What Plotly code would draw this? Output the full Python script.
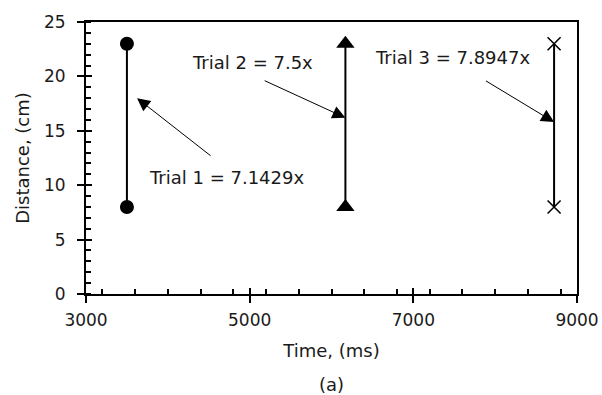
import plotly.graph_objects as go

# Data
trial1_x = [3500, 3500]
trial1_y = [8, 23]
trial2_x = [6170, 6170]
trial2_y = [8, 23]
trial3_x = [8720, 8720]
trial3_y = [8, 23]

labels = ["Trial 1 = 7.1429x", "Trial 2 = 7.5x", "Trial 3 = 7.8947x"]
label_pos = [(4719, 10.75), (5031, 21.3), (7477, 21.7)]
arrow_tail = [(4541, 12.6), (5165, 19.67), (7869, 19.67)]
arrow_tip = [(3624, 18.0), (6170, 16.2), (8720, 15.8)]

FONT = "DejaVu Sans"
FS = 18
TXT = "#1a1a1a"
fig = go.Figure()
fig.add_trace(go.Scatter(x=trial1_x, y=trial1_y, mode="lines+markers",
                         line=dict(color="black", width=2),
                         marker=dict(symbol="circle", size=14, color="black"),
                         showlegend=False, hoverinfo="skip"))
fig.add_trace(go.Scatter(x=trial2_x, y=trial2_y, mode="lines+markers",
                         line=dict(color="black", width=2),
                         marker=dict(symbol="triangle-up", size=16, color="black"),
                         showlegend=False, hoverinfo="skip"))
fig.add_trace(go.Scatter(x=trial3_x, y=trial3_y, mode="lines+markers",
                         line=dict(color="black", width=2),
                         marker=dict(symbol="x-thin-open", size=13,
                                     line=dict(color="black", width=1.6)),
                         showlegend=False, hoverinfo="skip"))
# invisible trace for overlay axes (inside half of crossing ticks)
fig.add_trace(go.Scatter(x=trial1_x, y=trial1_y, xaxis="x2", yaxis="y2",
                         mode="markers", opacity=0, showlegend=False,
                         hoverinfo="skip"))

for lab, (tx, ty) in zip(labels, label_pos):
    fig.add_annotation(x=tx, y=ty, text=lab, showarrow=False,
                       font=dict(family=FONT, size=FS, color=TXT))
for (ax_, ay_), (x_, y_) in zip(arrow_tail, arrow_tip):
    fig.add_annotation(x=x_, y=y_, ax=ax_, ay=ay_, axref="x", ayref="y",
                       xref="x", yref="y", text="", showarrow=True,
                       arrowhead=2, arrowsize=2.6, arrowwidth=1,
                       arrowcolor="black", standoff=0)
fig.add_annotation(x=0.5, y=-0.331, xref="paper", yref="paper", text="(a)",
                   showarrow=False, yanchor="middle",
                   font=dict(family=FONT, size=FS, color=TXT))

axis_common = dict(showgrid=False, zeroline=False, linecolor="black",
                   linewidth=2, mirror=True, ticks="outside", ticklen=7,
                   tickwidth=2, tickcolor="black", automargin=False,
                   tickfont=dict(family=FONT, size=17, color=TXT))

fig.update_layout(
    width=602, height=395,
    margin=dict(l=86, r=25, t=22, b=101),
    plot_bgcolor="white", paper_bgcolor="white",
    xaxis=dict(range=[3000, 9000], tick0=3000, dtick=2000,
               minor=dict(dtick=400, ticks="inside", ticklen=5,
                          tickwidth=2, tickcolor="black"),
               ticklabelstandoff=3,
               title=dict(text="Time, (ms)",
                          font=dict(family=FONT, size=FS, color=TXT),
                          standoff=15),
               **axis_common),
    yaxis=dict(range=[0, 25], tick0=0, dtick=5,
               minor=dict(dtick=1, ticks="inside", ticklen=5,
                          tickwidth=2, tickcolor="black"),
               ticklabelstandoff=8,
               title=dict(text="Distance, (cm)",
                          font=dict(family=FONT, size=FS, color=TXT),
                          standoff=10),
               **axis_common),
    xaxis2=dict(range=[3000, 9000], tick0=3000, dtick=2000, overlaying="x",
                ticks="inside", ticklen=6, tickwidth=2, tickcolor="black",
                showticklabels=False, showgrid=False, zeroline=False,
                showline=False, anchor="y", automargin=False),
    yaxis2=dict(range=[0, 25], tick0=0, dtick=5, overlaying="y",
                ticks="inside", ticklen=6, tickwidth=2, tickcolor="black",
                showticklabels=False, showgrid=False, zeroline=False,
                showline=False, anchor="x", automargin=False),
)

fig.write_html("out.html", config={"displayModeBar": False},
               post_script="document.body.style.margin='0';"
                           "document.body.style.overflow='hidden';")
